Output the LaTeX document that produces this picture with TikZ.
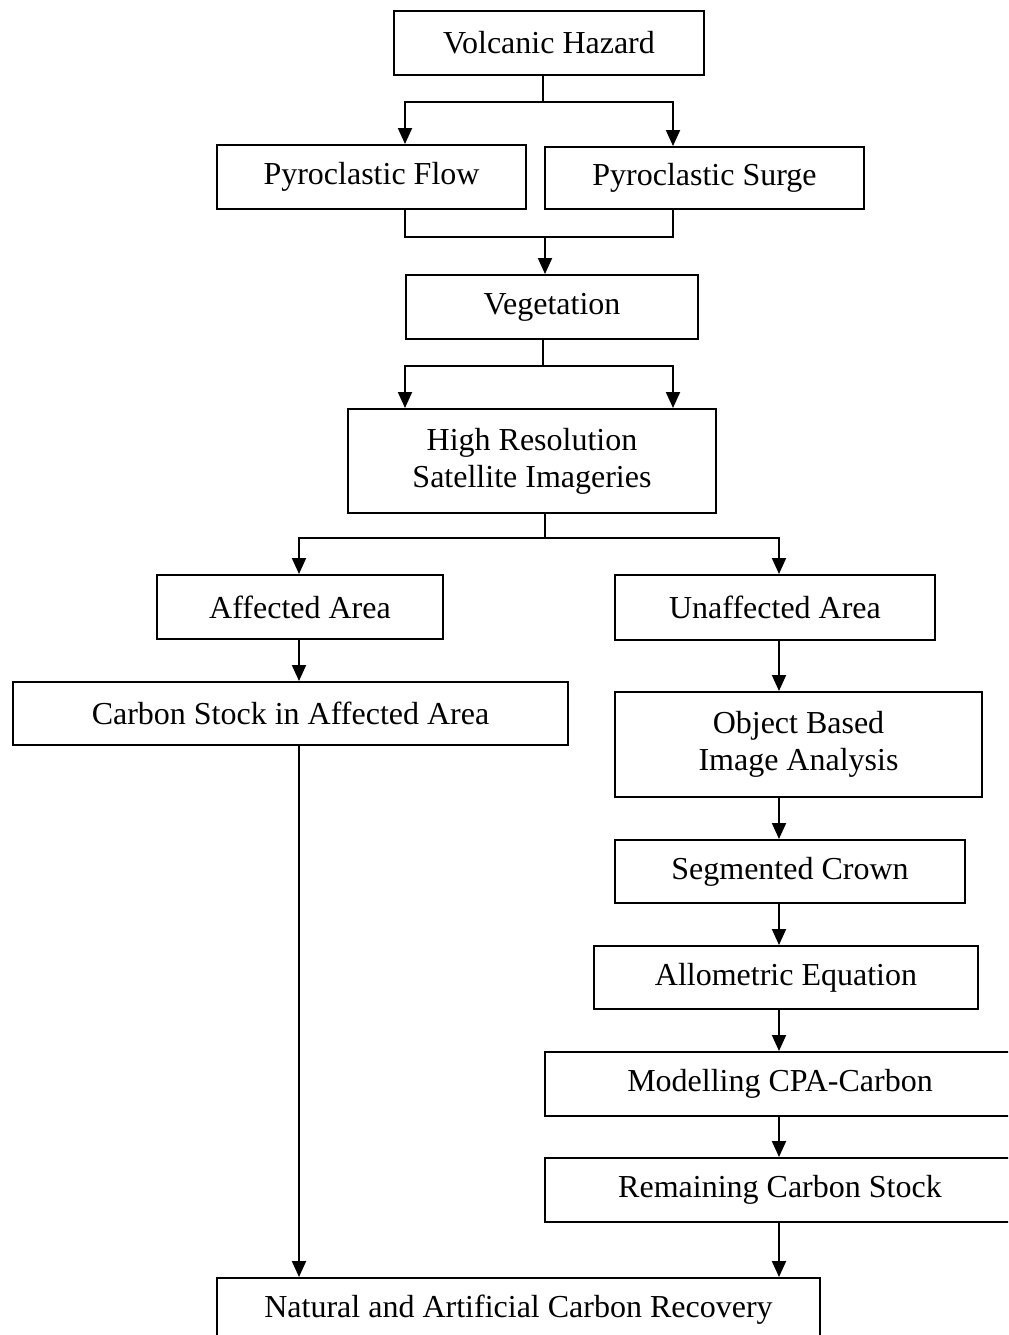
\documentclass[tikz,border=0pt]{standalone}
\usepackage{fontspec}
\setmainfont{Liberation Serif}
\usetikzlibrary{arrows.meta}

\begin{document}
\begin{tikzpicture}[x=0.5pt,y=-0.5pt,
  box/.style={draw,line width=1pt,inner sep=0pt,align=center,font=\fontsize{16pt}{18.5pt}\selectfont},
  lnk/.style={line width=1pt},
  arr/.style={line width=1pt,-{Triangle[length=8pt,width=7pt]}}]
\useasboundingbox (0,0) rectangle (1008,1335);
\clip (0,0) rectangle (1008,1335);

\node[box,minimum width=155pt,minimum height=32pt] (hazard) at (549,43) {Volcanic Hazard};
\node[box,minimum width=154.5pt,minimum height=32pt] (flow) at (371.5,177) {Pyroclastic Flow};
\node[box,minimum width=159.5pt,minimum height=31pt] (surge) at (704.5,178) {Pyroclastic Surge};
\node[box,minimum width=146pt,minimum height=32pt] (veg) at (552,307) {Vegetation};
\node[box,minimum width=184pt,minimum height=52pt] (hrsi) at (532,461) {High Resolution\\Satellite Imageries};
\node[box,minimum width=143pt,minimum height=32pt] (aff) at (300,607) {Affected Area};
\node[box,minimum width=160pt,minimum height=32.5pt] (unaff) at (775,607.5) {Unaffected Area};
\node[box,minimum width=277.5pt,minimum height=31.5pt] (cstock) at (290.5,713.5) {Carbon Stock in Affected Area};
\node[box,minimum width=183.5pt,minimum height=52.5pt] (obia) at (798.5,744.5) {Object Based\\Image Analysis};
\node[box,minimum width=175pt,minimum height=31.5pt] (crown) at (790,871.5) {Segmented Crown};
\node[box,minimum width=192pt,minimum height=31.5pt] (allo) at (786,977.5) {Allometric Equation};
\node[box,minimum width=235pt,minimum height=32pt] (model) at (780,1084) {Modelling CPA-Carbon};
\node[box,minimum width=235pt,minimum height=32pt] (remain) at (780,1190) {Remaining Carbon Stock};
\node[box,minimum width=301.5pt,minimum height=32pt] (natural) at (518.5,1310) {Natural and Artificial Carbon Recovery};

\coordinate (j1) at (543,102);
\coordinate (j1l) at (405,102);
\coordinate (j1r) at (673,102);
\coordinate (j2) at (545,237);
\coordinate (j2l) at (405,237);
\coordinate (j2r) at (673,237);
\coordinate (j3) at (543,366);
\coordinate (j3l) at (405,366);
\coordinate (j3r) at (673,366);
\coordinate (j4) at (545,538);
\coordinate (j4l) at (299,538);
\coordinate (j4r) at (779,538);

\draw[lnk] (hazard.south -| j1) -- (j1);
\draw[arr] (j1) -- (j1l) -- (flow.north -| j1l);
\draw[arr] (j1) -- (j1r) -- (surge.north -| j1r);
\draw[lnk] (flow.south -| j2l) -- (j2l) -- (j2r) -- (surge.south -| j2r);
\draw[arr] (j2) -- (veg.north -| j2);
\draw[lnk] (veg.south -| j3) -- (j3);
\draw[arr] (j3) -- (j3l) -- (hrsi.north -| j3l);
\draw[arr] (j3) -- (j3r) -- (hrsi.north -| j3r);
\draw[lnk] (hrsi.south -| j4) -- (j4);
\draw[arr] (j4) -- (j4l) -- (aff.north -| j4l);
\draw[arr] (j4) -- (j4r) -- (unaff.north -| j4r);
\draw[arr] (aff.south -| j4l) -- (cstock.north -| j4l);
\draw[arr] (cstock.south -| j4l) -- (natural.north -| j4l);
\draw[arr] (unaff.south -| j4r) -- (obia.north -| j4r);
\draw[arr] (obia.south -| j4r) -- (crown.north -| j4r);
\draw[arr] (crown.south -| j4r) -- (allo.north -| j4r);
\draw[arr] (allo.south -| j4r) -- (model.north -| j4r);
\draw[arr] (model.south -| j4r) -- (remain.north -| j4r);
\draw[arr] (remain.south -| j4r) -- (natural.north -| j4r);

\end{tikzpicture}
\end{document}
